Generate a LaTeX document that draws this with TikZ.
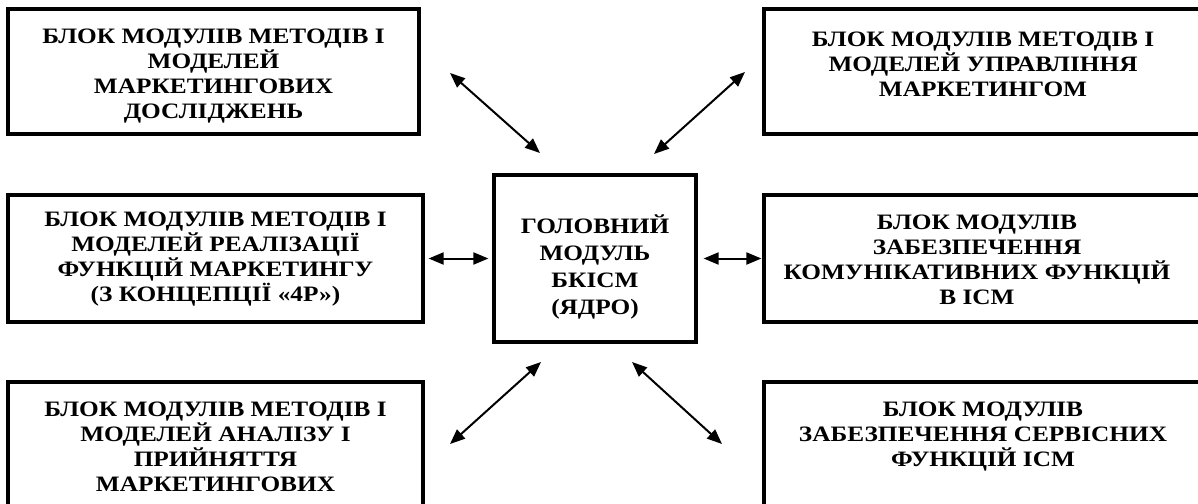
\documentclass[tikz,border=0pt]{standalone}
\usepackage{fontspec}
\setmainfont{Liberation Serif}[FakeStretch=1.15]
\usetikzlibrary{arrows.meta}
\begin{document}
\begin{tikzpicture}[x=1pt,y=-1pt,
  blk/.style={draw, line width=3.2pt, rectangle, inner sep=0pt},
  lbl/.style={anchor=north, align=center, inner sep=0pt,
    font=\fontsize{22}{25}\selectfont\bfseries},
  clbl/.style={align=center, inner sep=0pt,
    font=\fontsize{22}{27}\selectfont\bfseries},
  link/.style={line width=2pt, {Triangle[length=15pt,width=12pt]}-{Triangle[length=15pt,width=12pt]}}]
\clip (0,0) rectangle (1198,503);
\fill[white] (0,0) rectangle (1198,503);
% boxes
\node[blk, minimum width=411pt, minimum height=125pt] (tl) at (213.5,71.5) {};
\node[blk, minimum width=438pt, minimum height=125pt] (tr) at (983,71.5) {};
\node[blk, minimum width=415pt, minimum height=127pt] (ml) at (215.5,258.5) {};
\node[blk, minimum width=202pt, minimum height=167pt] (c) at (595,258.5) {};
\node[blk, minimum width=438pt, minimum height=127pt] (mr) at (983,258.5) {};
\node[blk, minimum width=415pt, minimum height=148pt] (bl) at (215.5,456) {};
\node[blk, minimum width=438pt, minimum height=148pt] (br) at (983,456) {};
% labels
\node[lbl] (tlt) at ([yshift=-21pt]tl.north) {БЛОК МОДУЛІВ МЕТОДІВ І\\МОДЕЛЕЙ\\МАРКЕТИНГОВИХ\\ДОСЛІДЖЕНЬ};
\node[lbl] (trt) at ([yshift=-24pt]tr.north) {БЛОК МОДУЛІВ МЕТОДІВ І\\МОДЕЛЕЙ УПРАВЛІННЯ\\МАРКЕТИНГОМ};
\node[lbl] (mlt) at ([yshift=-18pt]ml.north) {БЛОК МОДУЛІВ МЕТОДІВ І\\МОДЕЛЕЙ РЕАЛІЗАЦІЇ\\ФУНКЦІЙ МАРКЕТИНГУ\\(З КОНЦЕПЦІЇ «4Р»)};
\node[clbl] (ct) at ([yshift=-8pt]c.center) {ГОЛОВНИЙ\\МОДУЛЬ\\БКІСМ\\(ЯДРО)};
\node[lbl] (mrt) at ([xshift=-6pt,yshift=-21pt]mr.north) {БЛОК МОДУЛІВ\\ЗАБЕЗПЕЧЕННЯ\\КОМУНІКАТИВНИХ ФУНКЦІЙ\\В ІСМ};
\node[lbl] (blt) at ([yshift=-21pt]bl.north) {БЛОК МОДУЛІВ МЕТОДІВ І\\МОДЕЛЕЙ АНАЛІЗУ І\\ПРИЙНЯТТЯ\\МАРКЕТИНГОВИХ};
\node[lbl] (brt) at ([yshift=-21pt]br.north) {БЛОК МОДУЛІВ\\ЗАБЕЗПЕЧЕННЯ СЕРВІСНИХ\\ФУНКЦІЙ ІСМ};
% arrow end points
\coordinate (a1) at (450,73);  \coordinate (a2) at (540,153);
\coordinate (b1) at (745,72);  \coordinate (b2) at (654,154);
\coordinate (d1) at (541,362); \coordinate (d2) at (450,444);
\coordinate (e1) at (632,362); \coordinate (e2) at (722,444);
% connectors
\draw[link] (a1) -- (a2);
\draw[link] (b1) -- (b2);
\draw[link] (d1) -- (d2);
\draw[link] (e1) -- (e2);
\draw[link, shorten <=4pt, shorten >=4pt] (ml.east) -- (c.west);
\draw[link, shorten <=6pt, shorten >=1pt] (c.east) -- (mr.west);
\end{tikzpicture}
\end{document}
